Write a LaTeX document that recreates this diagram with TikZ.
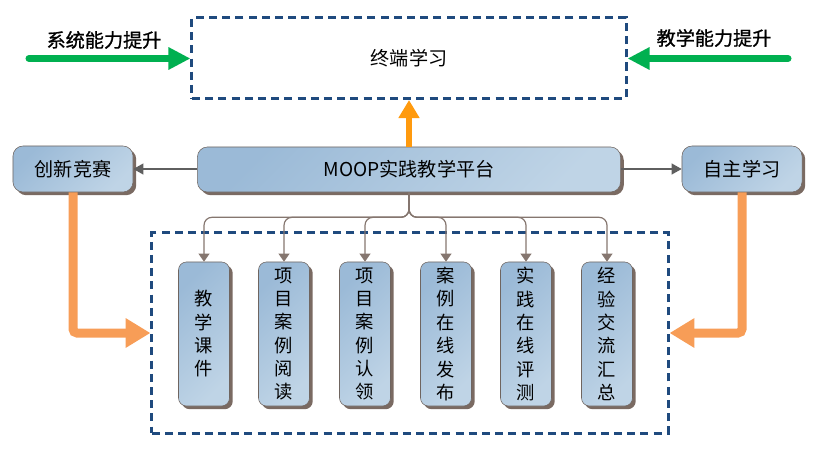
\documentclass[tikz,border=0pt]{standalone}
\usepackage{fontspec}
\newfontfamily\cjk{Noto Sans CJK SC}
\newfontfamily\cjkb[FakeBold=1]{Noto Sans CJK SC}
\usetikzlibrary{arrows.meta,shadows}

\definecolor{dashblue}{HTML}{1F4A7E}
\definecolor{boxtop}{HTML}{9BBAD7}
\definecolor{boxbot}{HTML}{BFD4E6}
\definecolor{boxline}{HTML}{6F6560}
\definecolor{shadowc}{HTML}{7A6A62}
\definecolor{conncol}{HTML}{85766F}
\definecolor{greenarr}{HTML}{00B050}
\definecolor{orangeup}{HTML}{FF9A0E}
\definecolor{orangeside}{HTML}{F79D57}
\definecolor{grayarr}{HTML}{5F5F5F}

\tikzset{
  platbox/.style={draw=boxline,rounded corners=0.25cm,top color=boxtop,bottom color=boxbot,shading angle=45,
    drop shadow={shadow xshift=0.08cm,shadow yshift=-0.08cm,fill=shadowc,opacity=1},
    font=\cjk\fontsize{13.6}{16}\selectfont,inner sep=0pt},
  tallbox/.style={platbox,rounded corners=0.2cm,minimum width=1.275cm,minimum height=3.6cm,align=center,
    font=\cjk\fontsize{13}{16.6}\selectfont},
  dashframe/.style={draw=dashblue,line width=0.075cm,dash pattern=on 0.2cm off 0.13cm,inner sep=0pt},
  conn/.style={draw=conncol,line width=0.03cm,rounded corners=0.2cm,-{Triangle[length=0.2cm,width=0.27cm]}},
  sidearr/.style={draw=grayarr,line width=0.035cm,-{Triangle[length=0.25cm,width=0.27cm]}},
  greenarr/.style={draw=greenarr,line width=0.175cm,line cap=round,-{Triangle[length=0.55cm,width=0.53cm]}},
  lbend/.style={draw=orangeside,line width=0.225cm,rounded corners=0.1cm,-{Triangle[length=0.62cm,width=0.7cm]}},
  uparr/.style={draw=orangeup,line width=0.15cm,-{Triangle[length=0.45cm,width=0.5cm]}},
  gainlabel/.style={font=\cjkb\fontsize{13.6}{15}\selectfont,inner sep=0pt}
}

\begin{document}
\begin{tikzpicture}[x=0.025cm,y=-0.025cm]
\useasboundingbox (0,0) rectangle (832,453);

% top frame and the two green inputs
\node[dashframe,minimum width=10.85cm,minimum height=2.025cm,font=\cjk\fontsize{13.6}{16}\selectfont] (term) at (409,58) {终端学习};
\coordinate (sysstart) at (29,58.5);
\coordinate (teachstart) at (788,58.5);
\node[gainlabel] (syslabel) at (104,40) {系统能力提升};
\node[gainlabel] (teachlabel) at (714,38) {教学能力提升};
\draw[greenarr] (sysstart) -- (term.west |- sysstart);
\draw[greenarr] (teachstart) -- (term.east |- teachstart);

% platform row
\node[platbox,minimum width=10.575cm,minimum height=1.125cm] (moop) at (409,169.5) {MOOP实践教学平台};
\node[platbox,minimum width=3cm,minimum height=1.15cm] (contest) at (73,169) {创新竞赛};
\node[platbox,minimum width=3cm,minimum height=1.15cm] (selfstudy) at (742,169) {自主学习};
\draw[uparr] (moop.north) -- (term.south);
\draw[sidearr] (moop.west |- contest) -- (contest.east);
\draw[sidearr] (moop.east |- selfstudy) -- (selfstudy.west);

% lower frame with the six modules
\node[dashframe,minimum width=12.9cm,minimum height=5cm] (modules) at (410,333) {};
\node[tallbox] (m1) at (204,334) {教\\学\\课\\件};
\node[tallbox] (m2) at (284,334) {项\\目\\案\\例\\阅\\读};
\node[tallbox] (m3) at (365,334) {项\\目\\案\\例\\认\\领};
\node[tallbox] (m4) at (446,334) {案\\例\\在\\线\\发\\布};
\node[tallbox] (m5) at (526,334) {实\\践\\在\\线\\评\\测};
\node[tallbox] (m6) at (607,334) {经\\验\\交\\流\\汇\\总};
\foreach \i in {1,...,6}
  \draw[conn] (moop.south) -- ++(0,25) -| (m\i.north);

% feedback into the lower frame
\draw[lbend] (contest.south) |- (modules.west);
\draw[lbend] (selfstudy.south) |- (modules.east);
\end{tikzpicture}
\end{document}
